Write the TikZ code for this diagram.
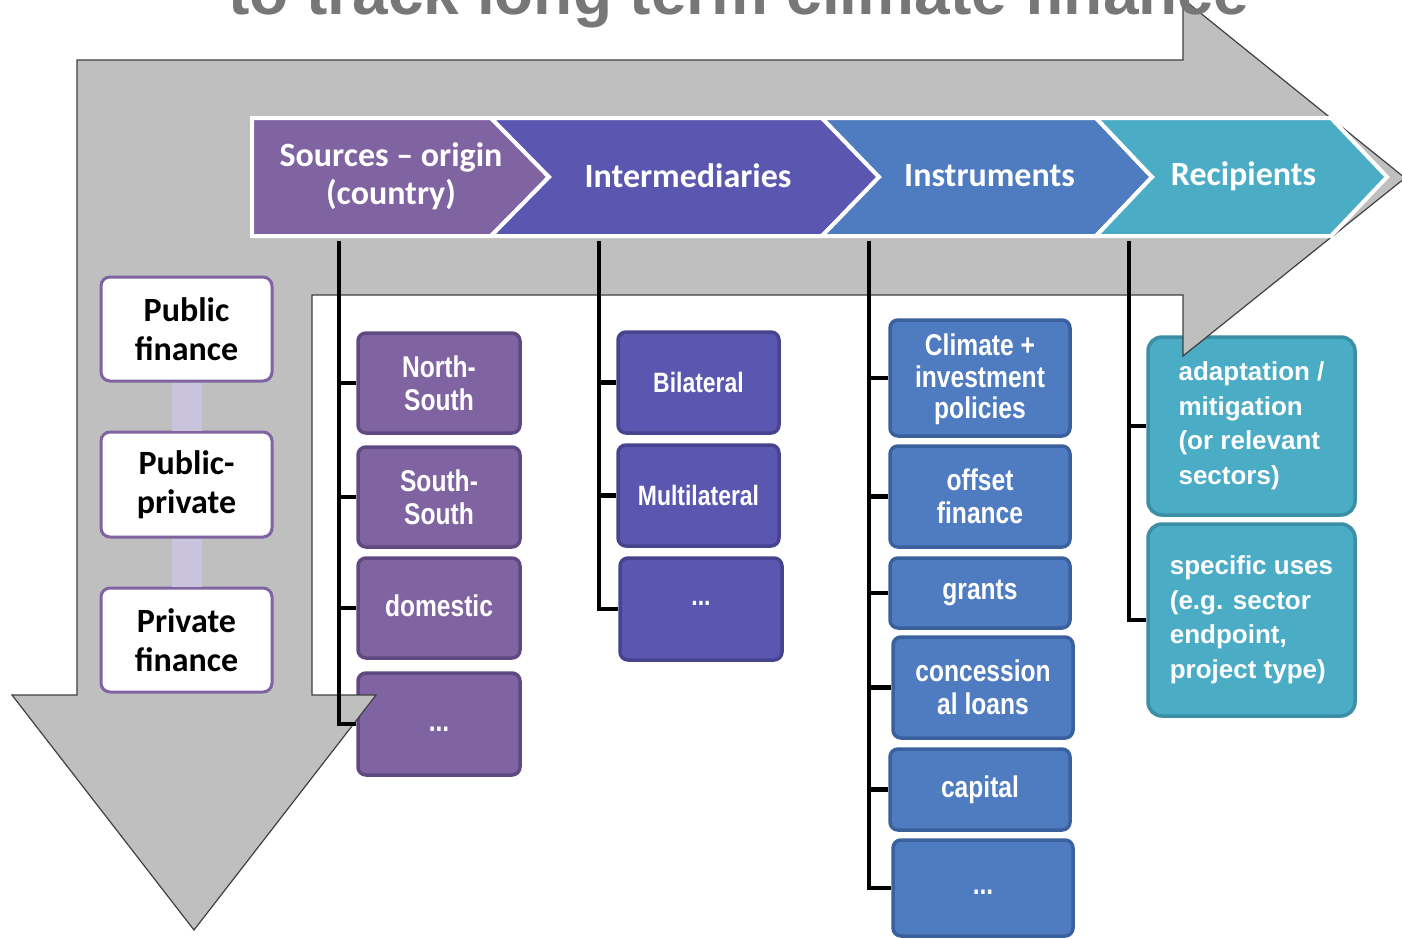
\documentclass[tikz,border=0pt]{standalone}
\usepackage{fontspec}
\setmainfont{Liberation Sans}
\newfontfamily\calibfont[Ligatures=TeX]{Carlito}
\newfontfamily\narrowsf[FakeStretch=0.82]{Liberation Sans}
\definecolor{arrowgray}{HTML}{BFBFBF}
\definecolor{titlegray}{HTML}{777777}
\definecolor{cpurple}{HTML}{8064A2}
\definecolor{cpurpleD}{HTML}{5E4A80}
\definecolor{cindigo}{HTML}{5B57B1}
\definecolor{cindigoD}{HTML}{47448F}
\definecolor{cblue}{HTML}{4F7CC0}
\definecolor{cblueD}{HTML}{3A609E}
\definecolor{cteal}{HTML}{4BACC6}
\definecolor{ctealD}{HTML}{3A8EA6}
\definecolor{lav}{HTML}{C9C3DE}
\begin{document}
\begin{tikzpicture}[x=1pt,y=-1pt,
  tbox/.style={rectangle, rounded corners=8pt, line width=3.5pt, inner sep=2pt, align=center, text=white, font=\narrowsf\bfseries\fontsize{30}{33}\selectfont},
  boxP/.style={tbox, fill=cpurple, draw=cpurpleD},
  boxI/.style={tbox, fill=cindigo, draw=cindigoD, font=\narrowsf\bfseries\fontsize{28}{32}\selectfont},
  boxB/.style={tbox, fill=cblue, draw=cblueD},
  boxR/.style={tbox, fill=cteal, draw=ctealD, rounded corners=14pt, align=left, font=\bfseries\fontsize{26}{34.5}\selectfont},
  boxF/.style={rectangle, rounded corners=9pt, line width=3pt, draw=cpurple, fill=white, align=center, inner sep=2pt, font=\calibfont\bfseries\fontsize{34}{39}\selectfont},
  tree/.style={line width=4.5pt, black},
  chev/.style={draw=white, line width=4pt, line join=miter},
  chevtext/.style={text=white, align=center, inner sep=0pt, font=\calibfont\bfseries\fontsize{34}{38}\selectfont},
  connbar/.style={line width=30pt, lav},
]
\useasboundingbox (0,0) rectangle (1402,938);
\clip (0,0) rectangle (1402,938);
\fill[white] (0,0) rectangle (1402,938);

% column 1: sources
\node[boxP, minimum width=162pt, minimum height=100pt] (ns) at (439,383) {North-\\South};
\node[boxP, minimum width=162pt, minimum height=100pt] (ss) at (439,497) {South-\\South};
\node[boxP, minimum width=162pt, minimum height=100pt] (dom) at (439,608) {\raisebox{4pt}{domestic}};
\node[boxP, minimum width=162pt, minimum height=102pt] (dotsA) at (439,724) {\raisebox{-7pt}[0pt][0pt]{...}};

% column 2: intermediaries
\node[boxI, minimum width=161pt, minimum height=101pt] (bil) at (698.5,382.5) {Bilateral};
\node[boxI, minimum width=161pt, minimum height=101pt] (mul) at (698.5,495.5) {Multilateral};
\node[boxI, minimum width=162pt, minimum height=102pt] (dotsB) at (701,609) {\raisebox{4pt}[0pt][0pt]{...}};

% column 3: instruments
\node[boxB, minimum width=180pt, minimum height=116pt, font=\narrowsf\bfseries\fontsize{30}{31.5}\selectfont] (cip) at (980,378) {\raisebox{-9pt}[0pt][0pt]{\begin{tabular}{@{}c@{}}Climate +\\investment\\policies\end{tabular}}};
\node[boxB, minimum width=180pt, minimum height=101pt] (off) at (980,496.5) {offset\\finance};
\node[boxB, minimum width=180pt, minimum height=70pt] (gra) at (980,593) {grants};
\node[boxB, minimum width=180pt, minimum height=101pt] (con) at (983,687.5) {concession\\al loans};
\node[boxB, minimum width=180pt, minimum height=81pt] (cap) at (980,789.5) {capital};
\node[boxB, minimum width=180pt, minimum height=96pt] (dotsC) at (983,888) {\raisebox{-6pt}[0pt][0pt]{...}};

% column 4: recipients
\node[boxR, minimum width=207pt, minimum height=178pt] (ada) at (1251.5,426) {adaptation /\\mitigation\\(or relevant\\sectors)};
\node[boxR, minimum width=207pt, minimum height=192pt] (spe) at (1251.5,620) {specific uses\\(e.g. sector\\endpoint,\\project type)};

% big gray L-arrow
\path[fill=arrowgray, draw=black!75, line width=1.2pt, line join=miter]
  (77,60) -- (1183,60) -- (1183,-1) -- (1405,178) -- (1183,356) -- (1183,295)
  -- (312,295) -- (312,695) -- (376,695) -- (194,930) -- (12,695) -- (77,695) -- cycle;

% tree connectors
\coordinate (topA) at (339,241);
\coordinate (topB) at (599,241);
\coordinate (topC) at (869,241);
\coordinate (topD) at (1129,241);
\foreach \b in {ns,ss,dom,dotsA} \draw[tree] (topA) |- (\b.west);
\foreach \b in {bil,mul,dotsB} \draw[tree] (topB) |- (\b.west);
\foreach \b in {cip,off,gra,con,cap,dotsC} \draw[tree] (topC) |- (\b.west);
\foreach \b in {ada,spe} \draw[tree] (topD) |- (\b.west);

% chevron band
\path[chev, fill=cpurple] (252,118) -- (491,118) -- (549,177) -- (491,236) -- (252,236) -- cycle;
\path[chev, fill=cindigo] (491,118) -- (822,118) -- (879,177) -- (822,236) -- (491,236) -- (549,177) -- cycle;
\path[chev, fill=cblue] (822,118) -- (1096,118) -- (1152,177) -- (1096,236) -- (822,236) -- (879,177) -- cycle;
\path[chev, fill=cteal] (1096,118) -- (1331,118) -- (1387,177) -- (1331,236) -- (1096,236) -- (1152,177) -- cycle;
\node[chevtext] (src) at (391,176) {Sources – origin\\(country)};
\node[chevtext] (int) at (688,176) {Intermediaries};
\node[chevtext] (ins) at (989.5,176) {Instruments};
\node[chevtext] (rec) at (1243.5,176) {Recipients};

% left finance boxes
\node[boxF, minimum width=171pt, minimum height=104pt] (pf) at (186.5,329) {Public\\finance};
\node[boxF, minimum width=171pt, minimum height=105pt] (pp) at (186.5,484.5) {Public-\\private};
\node[boxF, minimum width=171pt, minimum height=104pt] (prf) at (186.5,640) {Private\\finance};
\draw[connbar] (pf.south) -- (pp.north);
\draw[connbar] (pp.south) -- (prf.north);

% title (cut off at top, as in the source slide)
\node[anchor=base west, inner sep=0pt, text=titlegray, font=\bfseries\fontsize{64}{64}\selectfont] (title) at (228,14) {to track long term climate finance};
\end{tikzpicture}
\end{document}
